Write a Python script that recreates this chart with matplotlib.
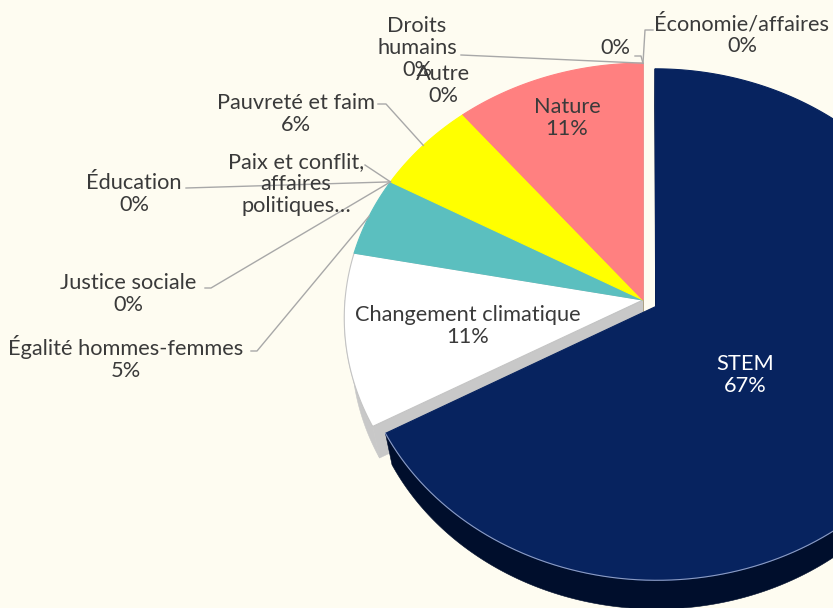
import numpy as np
import matplotlib
matplotlib.use("Agg")
import matplotlib.pyplot as plt
from matplotlib.patches import Polygon

plt.rcParams["font.family"] = ["Lato", "DejaVu Sans"]

W, H = 833, 608
BG = "#fefcf1"
TEXT = "#3a3a3a"
LEADER = "#a8a8a8"

# slices, clockwise from 12 o'clock
categories = ["STEM", "Changement climatique", "Égalité hommes-femmes",
              "Justice sociale", "Éducation",
              "Paix et conflit,\naffaires\npolitiques…",
              "Pauvreté et faim", "Autre", "Nature", "Droits\nhumains", "",
              "Économie/affaires"]
shares = [67, 11, 5, 0, 0, 0, 6, 0, 11, 0, 0, 0]
explode = [0.05, 0, 0, 0, 0, 0, 0, 0, 0, 0, 0, 0]
top_colors = ["#07235f", "#ffffff", "#5bbfbf", "#5bbfbf", "#5bbfbf", "#5bbfbf",
              "#ffff00", "#ff8080", "#ff8080", "#ff8080", "#ff8080", "#ff8080"]
side_colors = ["#000e2c", "#c8c8c8", "#3c8f8f", "#3c8f8f", "#3c8f8f", "#3c8f8f",
               "#b8b800", "#c05c5c", "#c05c5c", "#c05c5c", "#c05c5c", "#c05c5c"]

# label placement: (x, y) of text block centre, leader start, stub end
labels = {
    "STEM": ((745, 375), None),
    "Changement climatique": ((468, 326), None),
    "Égalité hommes-femmes": ((126, 358), [(251, 351), (257, 351)]),
    "Justice sociale": ((128, 294), [(205, 288), (211, 288)]),
    "Éducation": ((134, 194), [(186, 188)]),
    "Paix et conflit,\naffaires\npolitiques…": ((296, 184), [(365, 165)]),
    "Pauvreté et faim": ((296, 114), [(378, 104), (386, 104)]),
    "Autre": ((443, 85), None),
    "Nature": ((567, 118), None),
    "Droits\nhumains": ((417, 48), [(461, 55)]),
    "": ((615, 48), [(635, 56), (641, 56)]),
    "Économie/affaires": ((742, 35), [(653, 30), (645, 30)]),
}
hide_pct = {"Paix et conflit,\naffaires\npolitiques…"}

# simple perspective camera for the tilted pie (pie radius = 1)
CX, CY = 643, 300
ELEV = np.radians(58.3)
DIST = 7.44
FOC = 298 * DIST
THICK = 0.22
CAM = np.array([0.0, -DIST * np.cos(ELEV), DIST * np.sin(ELEV)])


def project(X, Y, Z=0.0):
    X, Y, Z = np.broadcast_arrays(np.asarray(X, float), np.asarray(Y, float),
                                  np.asarray(Z, float))
    d = DIST + Y * np.cos(ELEV) - Z * np.sin(ELEV)
    sx = FOC * X / d
    sy = FOC * (Y * np.sin(ELEV) + Z * np.cos(ELEV)) / d
    return np.column_stack([CX + sx, CY - sy])


fig = plt.figure(figsize=(W / 100, H / 100), dpi=100, facecolor=BG)
ax = fig.add_axes([0, 0, 1, 1])

# let matplotlib lay out the wedges (angles + explode), then tilt them
wedges, _ = ax.pie(shares, startangle=90, counterclock=False, explode=explode)
geo = []
for w in wedges:
    geo.append((np.radians(w.theta1), np.radians(w.theta2),
                np.array(w.center), w.r))
    w.remove()

ax.set_aspect("auto")
ax.set_xlim(0, W)
ax.set_ylim(H, 0)
ax.axis("off")
ax.set_facecolor(BG)

faces = []  # (depth, polygon, colour)
for (t1, t2, c, r), share, sc in zip(geo, shares, side_colors):
    if share == 0:
        continue
    t = np.linspace(t1, t2, 300)
    front = np.sin(t) < 0
    # outer rim, front-facing runs only
    idx = np.flatnonzero(front)
    if idx.size:
        runs = np.split(idx, np.flatnonzero(np.diff(idx) > 1) + 1)
        for run in runs:
            tt = t[run]
            xs, ys = c[0] + r * np.cos(tt), c[1] + r * np.sin(tt)
            top = project(xs, ys, 0)
            bot = project(xs, ys, -THICK)
            poly = np.vstack([top, bot[::-1]])
            faces.append((np.mean(ys), poly, sc))
    # radial cut faces
    for phi, sgn in ((t1, -1), (t2, 1)):
        normal = np.array([-np.sin(phi), np.cos(phi)]) * sgn
        mid = np.array([c[0] + 0.5 * r * np.cos(phi), c[1] + 0.5 * r * np.sin(phi)])
        if normal @ (CAM[:2] - mid) <= 0:
            continue
        rim = (c[0] + r * np.cos(phi), c[1] + r * np.sin(phi))
        pts = np.vstack([project(c[0], c[1], 0), project(*rim, 0),
                         project(*rim, -THICK), project(c[0], c[1], -THICK)])
        faces.append((mid[1], pts, sc))

for depth, poly, sc in sorted(faces, key=lambda f: -f[0]):
    ax.add_patch(Polygon(poly, closed=True, facecolor=sc, edgecolor=sc,
                         lw=0.4, zorder=2))

# top faces
for (t1, t2, c, r), share, tc in zip(geo, shares, top_colors):
    if share == 0:
        continue
    t = np.linspace(t1, t2, 300)
    xs = np.concatenate([[c[0]], c[0] + r * np.cos(t)])
    ys = np.concatenate([[c[1]], c[1] + r * np.sin(t)])
    edge = "#c4c4c4" if tc == "#ffffff" else tc
    ax.add_patch(Polygon(project(xs, ys), closed=True, facecolor=tc,
                         edgecolor=edge, lw=0.8, zorder=3))

# light bevel along the STEM front rim
t1, t2, c, r = geo[0]
t = np.linspace(t1, 0, 200)
rim = project(c[0] + r * np.cos(t), c[1] + r * np.sin(t))
ax.plot(rim[:, 0], rim[:, 1], color="#8c9cc4", lw=0.8, zorder=4)

# labels and leader lines
for (t1, t2, c, r), name, share in zip(geo, categories, shares):
    (lx, ly), lead = labels[name]
    txt = name if name in hide_pct else (f"{name}\n{share}%" if name else f"{share}%")
    color = "white" if name == "STEM" else TEXT
    ax.text(lx, ly, txt, ha="center", va="center", ma="center", fontsize=15.7,
            color=color, linespacing=1.14, zorder=6)
    if lead:
        tm = 0.5 * (t1 + t2)
        target = project(c[0] + r * np.cos(tm), c[1] + r * np.sin(tm))[0]
        pts = np.array(lead + [tuple(target)])
        ax.plot(pts[:, 0], pts[:, 1], color=LEADER, lw=1.0, zorder=5)

fig.savefig("out.png", dpi=100, facecolor=BG)
